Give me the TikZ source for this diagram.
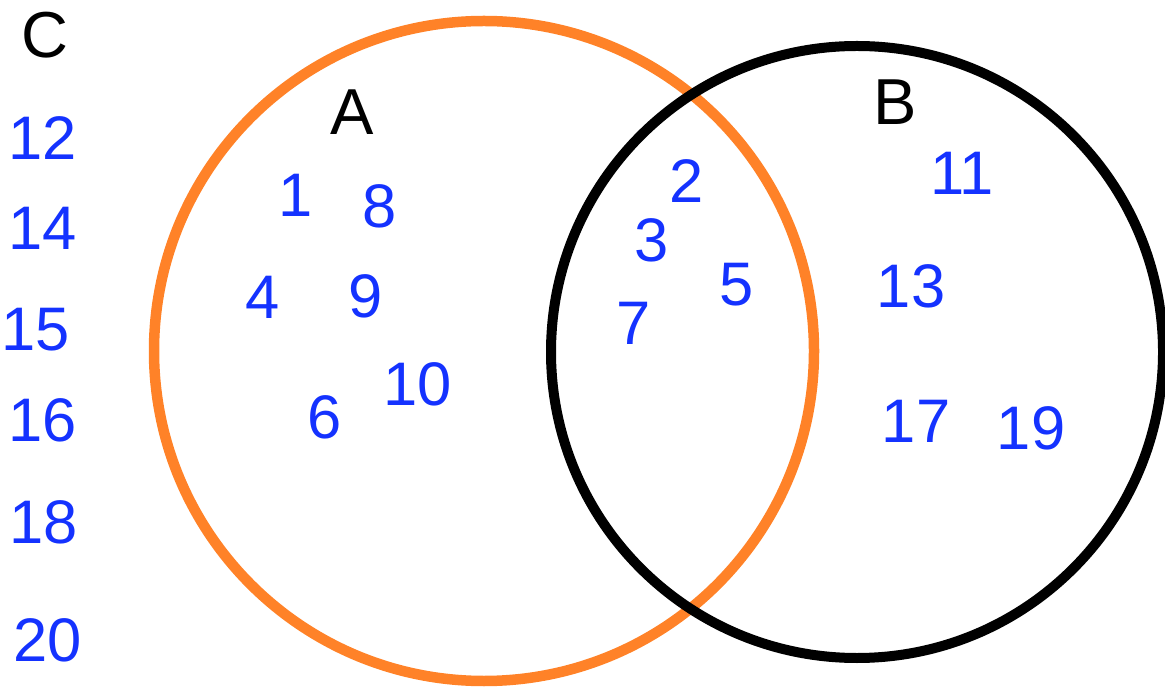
\documentclass[tikz,border=0pt]{standalone}
\usepackage{fontspec}
\setmainfont{Liberation Sans}
\definecolor{vorange}{RGB}{255,130,40}
\definecolor{vblue}{RGB}{20,50,255}
\begin{document}
\begin{tikzpicture}[x=0.02cm,y=-0.02cm,
  setlabel/.style={font=\fontsize{37}{40}\selectfont, text=black, inner sep=0pt},
  elem/.style={font=\fontsize{35}{40}\selectfont, text=vblue, inner sep=0pt}]
\useasboundingbox (0,0) rectangle (1165,688);
\draw[vorange, line width=0.21cm] (484,351) circle (330);
\draw[black, line width=0.2cm] (857,352) circle (306);
\node[setlabel] (C) at (45,35) {C};
\node[setlabel] (A) at (352,112) {A};
\node[setlabel] (B) at (895,102) {B};
\node[elem] (n12) at (43,138) {12};
\node[elem] (n14) at (43,228) {14};
\node[elem] (n15) at (36,330) {15};
\node[elem] (n16) at (43,420) {16};
\node[elem] (n18) at (44,522) {18};
\node[elem] (n20) at (48,640) {20};
\node[elem] (n1) at (296,195) {1};
\node[elem] (n8) at (380,206) {8};
\node[elem] (n4) at (263,297) {4};
\node[elem] (n9) at (366,296) {9};
\node[elem] (n10) at (418,384) {10};
\node[elem] (n6) at (325,417) {6};
\node[elem] (n2) at (687,181) {2};
\node[elem] (n3) at (652,240) {3};
\node[elem] (n5) at (737,285) {5};
\node[elem] (n7) at (634,323) {7};
\node[elem] (n11) at (962,173) {11};
\node[elem] (n13) at (911,286) {13};
\node[elem] (n17) at (916,421) {17};
\node[elem] (n19) at (1031,428) {19};
\end{tikzpicture}
\end{document}
